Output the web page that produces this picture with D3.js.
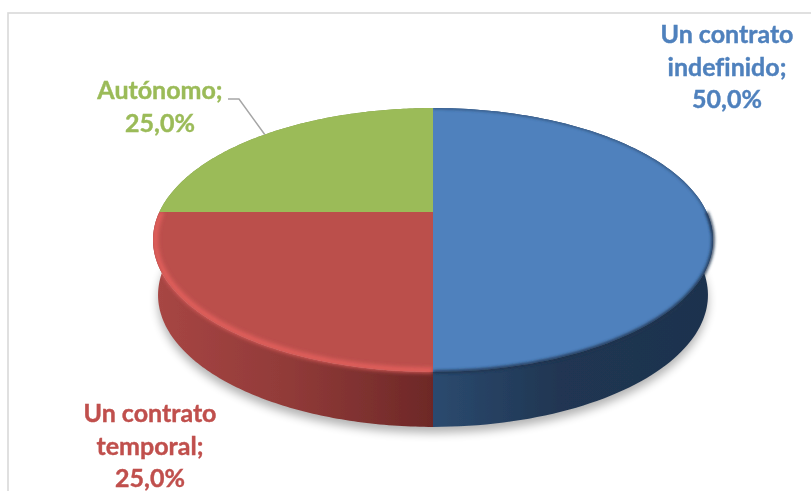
<!DOCTYPE html>
<html>
<head>
<meta charset="utf-8">
<script src="https://cdn.jsdelivr.net/npm/d3@7"></script>
<style>
html, body { margin: 0; padding: 0; background: #fff; overflow: hidden; }
</style>
</head>
<body>
<script>
// chart values
var categories = ["Un contrato indefinido", "Un contrato temporal", "Autónomo"];
var values = [50.0, 25.0, 25.0];
var labelLines = [["Un contrato", "indefinido;", "50,0%"], ["Un contrato", "temporal;", "25,0%"], ["Autónomo;", "25,0%"]];
var colors = ["#4f81bd", "#bb4f4c", "#9bbb59"];
var textColors = ["#4f81bd", "#c0504d", "#9bbb59"];

var width = 811, height = 491;
var cx = 433, cy = 212;      // pie centre as seen in perspective
var rx = 280;                // half width of the top face
var tilt = 0.212;            // perspective strength
var vScale = 126;
var depth = 55, shrink = 0.982;

var svg = d3.select("body").append("svg")
	.attr("width", width)
	.attr("height", height)
	.style("display", "block");

var defs = svg.append("defs");
function blur(id, sd) {
	defs.append("filter").attr("id", id)
		.attr("x", "-20%").attr("y", "-20%").attr("width", "140%").attr("height", "140%")
		.append("feGaussianBlur").attr("stdDeviation", sd);
}
blur("shadowBlur", 5);
blur("rimBlur", 2);
blur("edgeBlur", 1.4);
blur("soft", 0.45);
blur("textSoft", 0.3);

function sideGradient(id, x1, x2, stops) {
	var g = defs.append("linearGradient").attr("id", id)
		.attr("gradientUnits", "userSpaceOnUse")
		.attr("x1", x1).attr("x2", x2).attr("y1", 0).attr("y2", 0);
	stops.forEach(function(s) {
		g.append("stop").attr("offset", s[0]).attr("stop-color", s[1]);
	});
}
sideGradient("side0", cx, cx + rx, [[0, "#2b4a6f"], [0.45, "#203652"], [1, "#1e324e"]]);
sideGradient("side1", cx - rx, cx, [[0, "#a84644"], [0.5, "#903a38"], [1, "#6d2827"]]);
sideGradient("side2", cx - rx, cx, [[0, "#7d9647"], [1, "#7d9647"]]);

// chart frame, it runs off the picture on the right and at the bottom
svg.append("rect")
	.attr("x", 8).attr("y", 13)
	.attr("width", width + 50).attr("height", height + 50)
	.attr("fill", "#fff")
	.attr("stroke", "#d9d9d9")
	.attr("stroke-width", 1.6);

var pie = d3.pie().sort(null).startAngle(0).endAngle(2 * Math.PI);
var slices = pie(values);

// pie angle and radius to screen, the circle lands on a tilted ellipse
function project(a, r) {
	var u = Math.sin(a) * r, v = -Math.cos(a) * r;
	var w = 1 - tilt * v;
	return [cx + rx * Math.sqrt(1 - tilt * tilt) * u / w, cy + vScale * v / w];
}
function lower(p) {
	return [cx + (p[0] - cx) * shrink, p[1] + depth];
}
function arcPoints(a0, a1, r) {
	return d3.range(0, 121).map(function(i) {
		return project(a0 + (a1 - a0) * i / 120, r);
	});
}
var line = d3.line();

var chart = svg.append("g").attr("filter", "url(#soft)");

// shadow under the disc
var whole = arcPoints(0, 2 * Math.PI, 1);
chart.append("path")
	.attr("d", line(whole.map(lower)) + "Z")
	.attr("transform", "translate(0,6)")
	.attr("fill", "#000")
	.attr("opacity", 0.3)
	.attr("filter", "url(#shadowBlur)");

// side walls
function wallPath(d) {
	var top = arcPoints(d.startAngle, d.endAngle, 1);
	return line(top.concat(top.map(lower).reverse())) + "Z";
}
chart.selectAll("path.wall")
	.data(slices)
	.enter().append("path")
	.attr("class", "wall")
	.attr("d", wallPath)
	.attr("fill", function(d, i) { return "url(#side" + i + ")"; });

// top faces
function facePath(d, r) {
	return line([project(0, 0)].concat(arcPoints(d.startAngle, d.endAngle, r))) + "Z";
}
chart.selectAll("path.face")
	.data(slices)
	.enter().append("path")
	.attr("class", "face")
	.attr("d", function(d) { return facePath(d, 1); })
	.attr("fill", function(d, i) { return colors[i]; });

// clips for the bevel
defs.append("clipPath").attr("id", "blueFace")
	.append("path").attr("d", facePath(slices[0], 1));
var redClip = defs.append("clipPath").attr("id", "redRim");
redClip.append("path").attr("d", facePath(slices[1], 1));
redClip.append("path").attr("d", wallPath(slices[1]));

// thin dark edge on the far side of the blue slice
chart.append("g").attr("clip-path", "url(#blueFace)")
	.append("path")
	.attr("d", line(arcPoints(slices[0].startAngle, Math.PI * 0.55, 1)))
	.attr("fill", "none")
	.attr("stroke", "#2b4a6f")
	.attr("stroke-width", 2)
	.attr("filter", "url(#edgeBlur)");
// soft front edge of the blue slice, it bleeds into the wall
chart.append("path")
	.attr("d", line(arcPoints(Math.PI * 0.5, slices[0].endAngle, 1)))
	.attr("fill", "none")
	.attr("stroke", "#1e324e")
	.attr("stroke-width", 3)
	.attr("filter", "url(#edgeBlur)");
// light band on the red slice, it stays inside the red face and wall
chart.append("g").attr("clip-path", "url(#redRim)")
	.append("path")
	.attr("d", line(arcPoints(slices[1].startAngle, slices[1].endAngle, 0.992)))
	.attr("fill", "none")
	.attr("stroke", "#e8625f")
	.attr("stroke-width", 4.5)
	.attr("filter", "url(#rimBlur)");

// leader line of the green label
var leaderEnd = project((slices[2].startAngle + slices[2].endAngle) / 2, 1);
svg.append("path")
	.attr("d", line([[228, 99], [239, 99], leaderEnd]))
	.attr("fill", "none")
	.attr("stroke", "#a6a6a6")
	.attr("stroke-width", 1.5);

// data labels
var labelPos = [[727, 43], [150, 422], [160, 99]];
var lineStep = 32.5;
labelLines.forEach(function(lines, i) {
	svg.append("g")
		.attr("filter", "url(#textSoft)")
		.selectAll("text")
		.data(lines)
		.enter().append("text")
		.attr("x", labelPos[i][0])
		.attr("y", function(d, j) { return labelPos[i][1] + j * lineStep; })
		.attr("text-anchor", "middle")
		.attr("font-family", "Lato, 'Open Sans', sans-serif")
		.attr("font-weight", "bold")
		.attr("font-size", 25)
		.style("font-variant-ligatures", "none")
		.attr("stroke", textColors[i])
		.attr("stroke-width", 0.4)
		.attr("fill", textColors[i])
		.text(function(d) { return d; });
});
</script>
</body>
</html>
